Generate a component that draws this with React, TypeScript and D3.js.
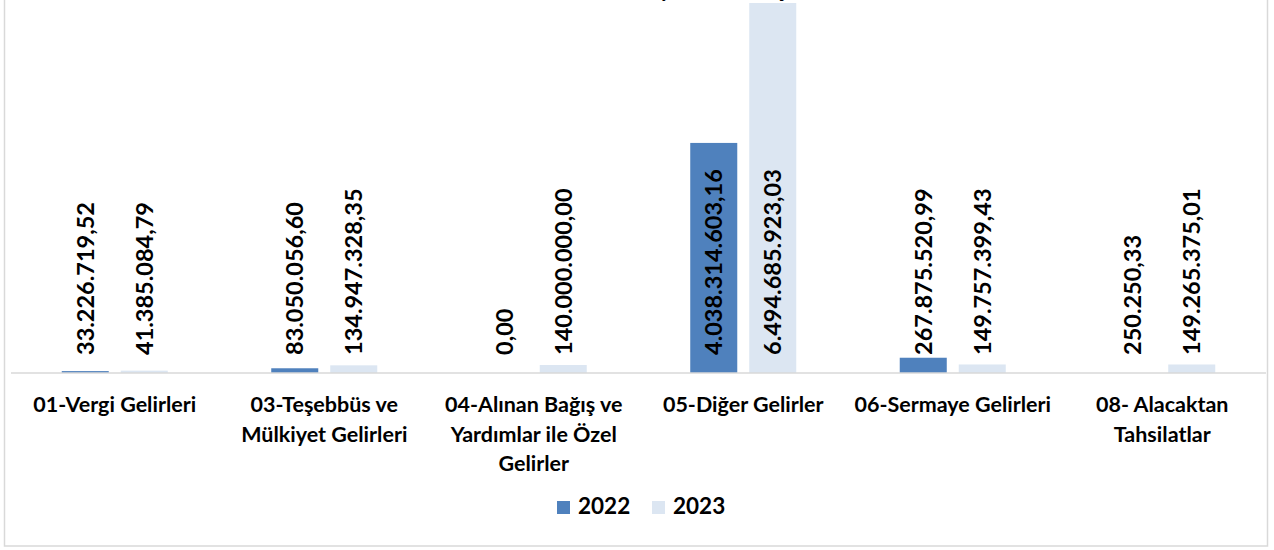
import React from "react";
import * as d3 from "d3";

const categories = [
  "01-Vergi Gelirleri",
  "03-Teşebbüs ve\nMülkiyet Gelirleri",
  "04-Alınan Bağış ve\nYardımlar ile Özel\nGelirler",
  "05-Diğer Gelirler",
  "06-Sermaye Gelirleri",
  "08- Alacaktan\nTahsilatlar",
];
const seriesNames = ["2022", "2023"];
const values2022 = [33226719.52, 83050056.6, 0, 4038314603.16, 267875520.99, 250250.33];
const values2023 = [41385084.79, 134947328.35, 140000000.0, 6494685923.03, 149757399.43, 149265375.01];
const colors = ["#4F81BD", "#DCE6F2"];
const title = "Ekonomik Sınıflandırmaya Göre Bütçe Gelirleri";

const W = 1274;
const H = 550;
const FONT = "Lato, 'Open Sans', sans-serif";

const trLocale = d3.formatLocale({ decimal: ",", thousands: ".", grouping: [3], currency: ["", ""] });
const fmt = trLocale.format(",.2f");

export default function App() {
  const baseY = 373;
  const x0 = d3.scaleBand<string>().domain(categories).range([10, 1267]).padding(0);
  const x1 = d3
    .scaleBand<string>()
    .domain(seriesNames)
    .range([0, x0.bandwidth()])
    .paddingInner(0.203)
    .paddingOuter(0.877);
  const y = d3.scaleLinear().domain([0, 7e9]).range([baseY, baseY - 398.8]);
  const series = [values2022, values2023];

  return (
    <svg
      width={W}
      height={H}
      style={{ position: "absolute", left: 0, top: 0, background: "#fff" }}
      fontFamily={FONT}
    >
      <rect x={4.5} y={-10} width={1263} height={556} fill="#fff" stroke="#d9d9d9" strokeWidth={1.5} />
      <text x={655} y={-3} textAnchor="middle" fontSize={22} fontWeight="bold" fill="#000">
        {title}
      </text>
      {categories.map((c, ci) =>
        seriesNames.map((s, si) => {
          const v = series[si][ci];
          const bx = (x0(c) as number) + (x1(s) as number);
          const bw = x1.bandwidth();
          const top = y(v);
          return (
            <g key={c + s}>
              {v > 0 && (
                <rect x={bx} y={top} width={bw} height={baseY - top} fill={colors[si]} />
              )}
              <text
                transform={`translate(${bx + bw / 2},355) rotate(-90)`}
                dy="0.36em"
                fontSize={23.5}
                fontWeight="bold"
                fill="#000"
              >
                {fmt(v)}
              </text>
            </g>
          );
        })
      )}
      <line x1={11} x2={1266} y1={baseY} y2={baseY} stroke="#d9d9d9" strokeWidth={1.5} />
      {categories.map((c) => {
        const cx = (x0(c) as number) + x0.bandwidth() / 2;
        return (
          <text key={c} x={cx} y={412} textAnchor="middle" fontSize={21.5} fontWeight="bold" fill="#000">
            {c.split("\n").map((line, li) => (
              <tspan key={li} x={cx} y={412 + li * 29.5}>
                {line}
              </tspan>
            ))}
          </text>
        );
      })}
      {seriesNames.map((s, si) => {
        const lx = si === 0 ? 557 : 652;
        return (
          <g key={s}>
            <rect x={lx} y={501} width={13} height={13} fill={colors[si]} />
            <text x={lx + 21} y={514} fontSize={22.5} fontWeight="bold" fill="#000">
              {s}
            </text>
          </g>
        );
      })}
    </svg>
  );
}
